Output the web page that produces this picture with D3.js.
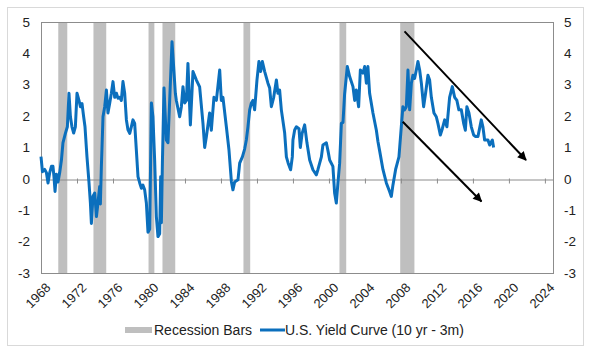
<!DOCTYPE html>
<html lang="en">
<head>
<meta charset="UTF-8">
<title>U.S. Yield Curve</title>
<style>
  body { margin: 0; background: #fff; }
  text { font-family: "Liberation Sans", Arial, sans-serif; fill: #222; }
</style>
</head>
<body>
<script src="https://d3js.org/d3.v7.min.js"></script>
<script>
// yield curve spread (10 yr - 3m), decimal years
const spreadYears = [
  1968.0, 1968.16, 1968.41, 1968.6, 1968.78, 1968.97, 1969.16, 1969.33, 1969.44, 1969.56,
  1969.71, 1969.89, 1970.08, 1970.27, 1970.44, 1970.71, 1970.93, 1971.11, 1971.27, 1971.44,
  1971.63, 1971.82, 1972.0, 1972.22, 1972.38, 1972.56, 1972.74, 1972.89, 1973.04, 1973.11,
  1973.33, 1973.49, 1973.6, 1973.78, 1973.97, 1974.16, 1974.33, 1974.52, 1974.6, 1974.71,
  1974.78, 1974.89, 1975.08, 1975.27, 1975.44, 1975.63, 1975.82, 1976.0, 1976.19, 1976.38,
  1976.56, 1976.74, 1976.93, 1977.11, 1977.3, 1977.49, 1977.67, 1977.86, 1978.04, 1978.22,
  1978.41, 1978.6, 1978.78, 1978.97, 1979.16, 1979.33, 1979.52, 1979.71, 1979.89, 1980.08,
  1980.27, 1980.44, 1980.63, 1980.82, 1981.0, 1981.19, 1981.3, 1981.38, 1981.49, 1981.67,
  1981.93, 1982.11, 1982.3, 1982.56, 1982.74, 1982.93, 1983.04, 1983.41, 1983.6, 1983.78,
  1983.97, 1984.16, 1984.33, 1984.6, 1984.89, 1985.27, 1985.63, 1986.0, 1986.19, 1986.38,
  1986.74, 1986.93, 1987.22, 1987.49, 1987.86, 1988.04, 1988.22, 1988.6, 1988.89, 1989.16,
  1989.33, 1989.52, 1989.89, 1990.08, 1990.38, 1990.63, 1990.82, 1991.0, 1991.19, 1991.38,
  1991.56, 1991.74, 1992.0, 1992.22, 1992.41, 1992.6, 1992.86, 1993.22, 1993.41, 1993.6,
  1993.86, 1994.16, 1994.33, 1994.52, 1994.71, 1995.08, 1995.27, 1995.47, 1995.74, 1995.93,
  1996.0, 1996.19, 1996.38, 1996.67, 1996.82, 1997.02, 1997.3, 1997.56, 1997.86, 1998.22,
  1998.6, 1998.78, 1999.16, 1999.33, 1999.71, 1999.89, 2000.08, 2000.44, 2000.63, 2000.82,
  2001.0, 2001.19, 2001.38, 2001.56, 2001.74, 2002.04, 2002.3, 2002.67, 2002.86, 2003.04,
  2003.3, 2003.49, 2003.78, 2003.97, 2004.16, 2004.33, 2004.52, 2004.89, 2005.27, 2005.44,
  2005.63, 2006.0, 2006.38, 2006.74, 2006.93, 2007.11, 2007.41, 2007.78, 2007.86, 2008.04,
  2008.22, 2008.41, 2008.6, 2008.78, 2008.97, 2009.16, 2009.33, 2009.52, 2009.71, 2009.89,
  2010.08, 2010.27, 2010.52, 2010.74, 2011.0, 2011.19, 2011.38, 2011.67, 2011.93, 2012.11,
  2012.38, 2012.6, 2012.86, 2013.11, 2013.41, 2013.71, 2013.97, 2014.22, 2014.44, 2014.71,
  2014.97, 2015.16, 2015.33, 2015.56, 2015.82, 2016.08, 2016.3, 2016.56, 2016.93, 2017.11,
  2017.3, 2017.67, 2017.86, 2018.16, 2018.3
];
const spreadValues = [
  0.71, 0.23, 0.3, 0.2, -0.13, 0.2, 0.4, 0.4, 0.07, -0.4,
  0.15, -0.1, 0.2, 0.6, 1.15, 1.45, 1.66, 2.73, 1.98, 1.66,
  1.46, 1.66, 2.73, 2.5, 2.3, 2.4, 1.98, 1.66, 1.0, 0.7,
  -0.1, -0.77, -1.42, -0.55, -0.45, -1.2, -0.77, -0.24, -0.8, 0.4,
  1.0, 1.98, 2.3, 2.83, 2.1, 2.4, 2.73, 3.1, 2.6, 2.73,
  2.57, 2.6, 2.5, 3.1, 2.73, 1.88, 1.56, 1.45, 1.66, 1.88,
  1.77, 0.9, 0.07, -0.13, -0.3, -0.2, -0.35, -0.77, -1.7, -1.6,
  2.42, 1.98, 0.6, -1.2, -1.84, -1.75, 0.07, -1.4, 0.5, 2.9,
  1.24, 1.15, 2.5, 4.37, 3.58, 2.73, 2.5, 1.98, 2.3, 2.94,
  2.42, 2.5, 3.68, 1.72, 3.42, 3.15, 2.93, 1.77, 1.0, 1.35,
  2.1, 1.55, 2.6, 2.5, 3.47, 2.5, 2.6, 1.66, 0.92, -0.09,
  -0.35, -0.1, -0.03, 0.5, 0.7, 0.95, 1.24, 1.66, 2.2, 2.42,
  2.5, 2.2, 3.15, 3.74, 3.42, 3.74, 3.42, 3.05, 2.9, 2.3,
  2.6, 3.15, 2.73, 2.83, 2.2, 1.46, 0.7, 0.5, 0.29, 0.7,
  1.24, 1.56, 1.66, 1.6, 1.0, 1.45, 1.72, 1.14, 0.6, 0.29,
  0.13, 0.3, 0.7, 1.08, 1.15, 0.9, 0.6, 0.4, -0.45, -0.77,
  -0.13, 0.5, 1.77, 1.8, 2.7, 3.58, 3.26, 2.94, 2.5, 2.83,
  2.3, 3.47, 3.37, 3.58, 3.05, 3.58, 2.73, 2.1, 1.55, 1.2,
  0.9, 0.3, -0.13, -0.4, -0.56, -0.2, 0.3, 0.7, 1.0, 1.66,
  2.3, 2.2, 2.3, 3.47, 2.2, 3.05, 3.3, 3.2, 3.47, 3.74,
  3.47, 3.05, 2.3, 2.73, 3.3, 3.15, 2.6, 2.1, 1.98, 1.77,
  1.4, 1.6, 1.88, 1.66, 2.6, 2.94, 2.6, 2.5, 2.2, 2.2,
  1.77, 1.55, 2.3, 2.1, 1.66, 1.4, 1.35, 1.35, 1.88, 1.66,
  1.24, 1.24, 1.08, 1.24, 1.0
];

// recession periods
const recessionStarts = [1969.92, 1973.83, 1979.95, 1981.5, 1990.5, 2001.17, 2007.92];
const recessionEnds   = [1970.92, 1975.25, 1980.6, 1982.92, 1991.25, 2001.92, 2009.5];

// trend arrows [x1, y1, x2, y2] in data units
const arrowUpper = [2008.4, 4.7, 2021.9, 0.6];
const arrowLower = [2008.2, 1.82, 2016.95, -0.72];

const xTicks = d3.range(1968, 2025, 4);
const yTicks = [-3, -2, -1, 0, 1, 2, 3, 4, 5];

const W = 589, H = 351;
const margin = {top: 22, right: 36, bottom: 78, left: 41};
const width = W - margin.left - margin.right;
const height = H - margin.top - margin.bottom;

const svg = d3.select("body").append("svg")
    .attr("width", W)
    .attr("height", H);

// outer chart frame
svg.append("rect")
    .attr("x", 7.5).attr("y", 7.5)
    .attr("width", 576).attr("height", 338)
    .attr("fill", "none")
    .attr("stroke", "#d9d9d9");

const g = svg.append("g")
    .attr("transform", "translate(" + margin.left + "," + margin.top + ")");

const x = d3.scaleLinear().domain([1968, 2024.9]).range([0, width]);
const y = d3.scaleLinear().domain([-3, 5]).range([height, 0]);

// recession bars
g.selectAll(".rec")
    .data(recessionStarts)
    .enter().append("rect")
    .attr("class", "rec")
    .attr("x", d => x(d))
    .attr("y", 0)
    .attr("width", (d, i) => x(recessionEnds[i]) - x(d))
    .attr("height", height)
    .attr("fill", "#bfbfbf");

// plot border
g.append("rect")
    .attr("x", 0.5).attr("y", 0.5)
    .attr("width", width).attr("height", height)
    .attr("fill", "none")
    .attr("stroke", "#8c8c8c");

// zero axis with ticks
const xAxis = g.append("g")
    .attr("transform", "translate(0," + Math.round(y(0)) + ".5)")
    .call(d3.axisBottom(x).tickValues(xTicks).tickSize(4).tickFormat(""));
xAxis.select(".domain").attr("stroke", "#8c8c8c");
xAxis.selectAll(".tick line").attr("stroke", "#8c8c8c").attr("y1", -1);

// x labels along bottom
g.selectAll(".xlab")
    .data(xTicks)
    .enter().append("text")
    .attr("class", "xlab")
    .attr("text-anchor", "end")
    .attr("font-size", "13px")
    .attr("transform", d => "translate(" + (x(d) + 4) + "," + (height + 9) + ") rotate(-45)")
    .attr("dy", "0.7em")
    .text(d => d);

// y labels on both sides
g.selectAll(".ylabL")
    .data(yTicks)
    .enter().append("text")
    .attr("text-anchor", "end")
    .attr("font-size", "13.5px")
    .attr("x", -11)
    .attr("y", d => y(d))
    .attr("dy", "0.35em")
    .text(d => d);
g.selectAll(".ylabR")
    .data(yTicks)
    .enter().append("text")
    .attr("text-anchor", "start")
    .attr("font-size", "13.5px")
    .attr("x", width + 11)
    .attr("y", d => y(d))
    .attr("dy", "0.35em")
    .text(d => d);

// spread line
const pts = spreadYears.map((yr, i) => [yr, spreadValues[i]]);
g.append("path")
    .datum(pts)
    .attr("fill", "none")
    .attr("stroke", "#0b6fbd")
    .attr("stroke-width", 3)
    .attr("stroke-linejoin", "round")
    .attr("d", d3.line().x(d => x(d[0])).y(d => y(d[1])));

// arrows
svg.append("defs").append("marker")
    .attr("id", "head")
    .attr("viewBox", "0 0 10 10")
    .attr("refX", 9).attr("refY", 5)
    .attr("markerUnits", "userSpaceOnUse")
    .attr("markerWidth", 10).attr("markerHeight", 9)
    .attr("orient", "auto")
    .append("path")
    .attr("d", "M0,0 L10,5 L0,10 Z")
    .attr("fill", "#000");

[arrowUpper, arrowLower].forEach(a => {
    g.append("line")
        .attr("x1", x(a[0])).attr("y1", y(a[1]))
        .attr("x2", x(a[2])).attr("y2", y(a[3]))
        .attr("stroke", "#000")
        .attr("stroke-width", 2)
        .attr("marker-end", "url(#head)");
});

// legend
const leg = svg.append("g");
leg.append("rect")
    .attr("x", 125).attr("y", 327)
    .attr("width", 27).attr("height", 6)
    .attr("fill", "#bfbfbf");
leg.append("text")
    .attr("x", 154).attr("y", 335)
    .attr("font-size", "14px")
    .text("Recession Bars");
leg.append("line")
    .attr("x1", 260).attr("x2", 285)
    .attr("y1", 330).attr("y2", 330)
    .attr("stroke", "#0b6fbd")
    .attr("stroke-width", 3);
leg.append("text")
    .attr("x", 285).attr("y", 335)
    .attr("font-size", "14px")
    .text("U.S. Yield Curve (10 yr - 3m)");
</script>
</body>
</html>
